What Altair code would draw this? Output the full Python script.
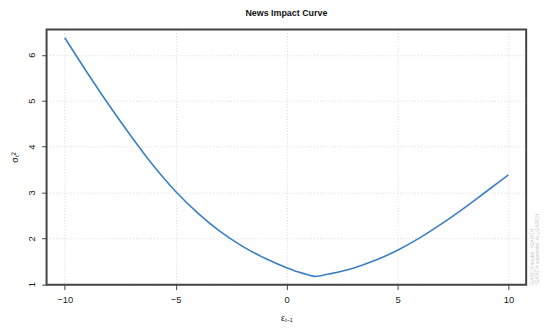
import altair as alt
import pandas as pd

eps = [-10, -9, -8, -7, -6, -5, -4, -3, -2, -1, 0, 0.5, 1, 1.26, 1.6, 2, 3, 4, 5, 6, 7, 8, 9, 10]
sigma2 = [6.37, 5.62, 4.90, 4.22, 3.58, 3.02, 2.55, 2.15, 1.83, 1.57, 1.36, 1.27, 1.20, 1.17, 1.19, 1.23,
          1.35, 1.52, 1.74, 2.01, 2.32, 2.66, 3.02, 3.38]
x_ticks = [-10, -5, 0, 5, 10]
y_ticks = [1, 2, 3, 4, 5, 6]
note_lines = ["GARCH model :  fGARCH", "fGARCH submodel:  ALLGARCH"]

W, H = 485, 258
FONT = "Liberation Sans"
BOX = "#444444"

df = pd.DataFrame({"eps": eps, "sigma2": sigma2})

xscale = alt.Scale(domain=[-10.82, 10.8], nice=False, zero=False)
yscale = alt.Scale(domain=[0.99, 6.55], nice=False, zero=False)

line = alt.Chart(df).mark_line(color="#3a7fc4", strokeWidth=1.6, interpolate="monotone").encode(
    x=alt.X("eps:Q", scale=xscale,
            axis=alt.Axis(values=x_ticks, title="εₜ₋₁", domain=False, tickSize=5,
                          tickColor=BOX, labelPadding=5, labelFontSize=9.5,
                          labelFont=FONT, labelColor="#222222", titleFont=FONT,
                          titleFontSize=9, titleFontWeight="normal", titleColor="#222222",
                          titlePadding=10, grid=True, gridColor="#d9d9d9", gridDash=[1, 2],
                          format="d")),
    y=alt.Y("sigma2:Q", scale=yscale,
            axis=alt.Axis(values=y_ticks, title="σₜ²", domain=False, tickSize=5,
                          tickColor=BOX, labelAngle=270, labelAlign="center",
                          labelBaseline="bottom", labelPadding=5, labelFontSize=9.5,
                          labelFont=FONT, labelColor="#222222", titleFont=FONT,
                          titleFontSize=9, titleFontWeight="normal", titleColor="#222222",
                          titlePadding=7, grid=True, gridColor="#d9d9d9", gridDash=[1, 2],
                          format="d")),
)

edge_df = pd.DataFrame({"k": [0]})
frame = alt.Chart(edge_df).mark_rect(
    fill="white", fillOpacity=0, stroke=BOX, strokeWidth=2
).encode(x=alt.value(0), x2=alt.value(W), y=alt.value(0), y2=alt.value(H))

notes_df = pd.DataFrame({"txt": note_lines, "i": [0, 1]})
notes0 = alt.Chart(notes_df[notes_df.i == 0]).mark_text(
    angle=270, align="left", baseline="middle", fontSize=5, font=FONT, color="#c8c8c8"
).encode(text="txt:N", x=alt.value(W + 6), y=alt.value(H))
notes1 = alt.Chart(notes_df[notes_df.i == 1]).mark_text(
    angle=270, align="left", baseline="middle", fontSize=5, font=FONT, color="#c8c8c8"
).encode(text="txt:N", x=alt.value(W + 10.5), y=alt.value(H))

chart = alt.layer(line, frame, notes0, notes1).properties(
    width=W, height=H, background="white",
    title=alt.TitleParams("News Impact Curve", font=FONT, fontSize=9, fontWeight="bold",
                          color="#111111", anchor="middle", offset=11),
    autosize=alt.AutoSizeParams(type="none"),
    padding={"left": 39, "top": 20, "right": 16, "bottom": 36},
).configure_view(stroke=None)

chart.save("out.html", embed_options={"renderer": "svg", "actions": False})
